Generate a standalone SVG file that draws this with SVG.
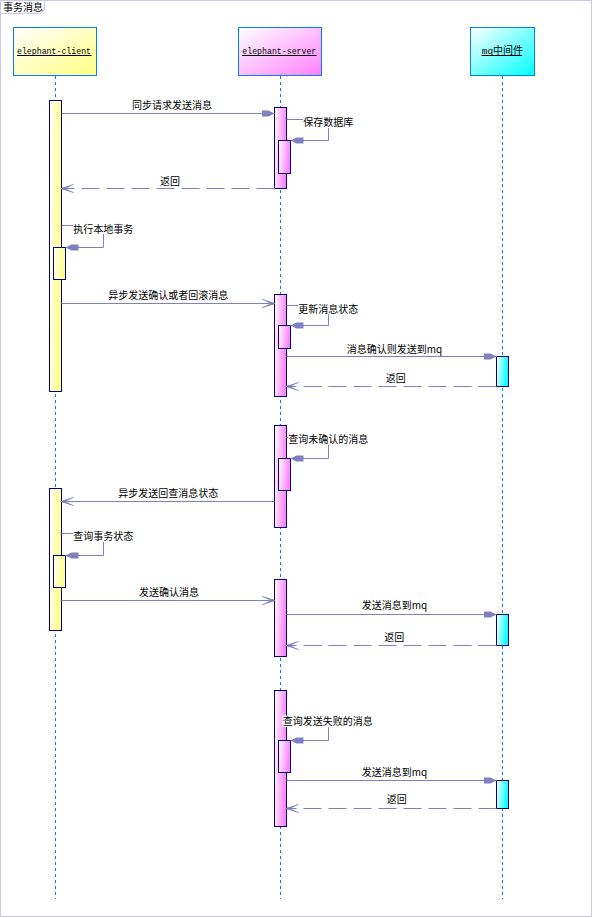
<svg xmlns="http://www.w3.org/2000/svg" width="592" height="918" viewBox="0 0 592 918">
<defs>
<style>
.frame{fill:#fff;stroke:#c8c8e4;stroke-width:1}
.hdr{stroke:#0080ff;stroke-width:1}
.life{stroke:#0080ff;stroke-width:1;stroke-dasharray:3,3;fill:none}
.act{stroke:#000080;stroke-width:1}
.msg{stroke:#8080c0;stroke-width:1;fill:none}
.ret{stroke:#8080c0;stroke-width:1;fill:none;stroke-dasharray:18,7}
.lbl{font-family:"Noto Sans CJK SC","Liberation Sans",sans-serif;font-size:10px;fill:#000}
.hname{font-family:"Liberation Mono","Noto Sans CJK SC",monospace;font-size:9.5px;fill:#000}
.ul{stroke:#000;stroke-width:1}
.bg{fill:#fff}
</style>
<linearGradient id="gY" x1="0" y1="0" x2="1" y2="1"><stop offset="0" stop-color="#ffffff"/><stop offset="1" stop-color="#ffff80"/></linearGradient>
<linearGradient id="gM" x1="0" y1="0" x2="1" y2="1"><stop offset="0" stop-color="#ffffff"/><stop offset="1" stop-color="#ff80ff"/></linearGradient>
<linearGradient id="gC" x1="0" y1="0" x2="1" y2="1"><stop offset="0" stop-color="#ffffff"/><stop offset="1" stop-color="#00ffff"/></linearGradient>
<linearGradient id="aY" x1="0" y1="0" x2="1" y2="0.2"><stop offset="0" stop-color="#ffffff"/><stop offset="1" stop-color="#ffff80"/></linearGradient>
<linearGradient id="aM" x1="0" y1="0" x2="1" y2="0.2"><stop offset="0" stop-color="#ffffff"/><stop offset="1" stop-color="#ff80ff"/></linearGradient>
<linearGradient id="aC" x1="0" y1="0" x2="1" y2="0.2"><stop offset="0" stop-color="#ffffff"/><stop offset="1" stop-color="#00ffff"/></linearGradient>
<marker id="fill" markerWidth="13" markerHeight="8" refX="13" refY="4" orient="auto" markerUnits="userSpaceOnUse">
<path d="M0,1 L7,1 L13,4 L7,7 L0,7 Z" fill="#8080c0"/>
</marker>
<marker id="open" markerWidth="14" markerHeight="10" refX="13" refY="5" orient="auto" markerUnits="userSpaceOnUse">
<path d="M1,1 L13,5 L1,9 M5,3 L13,5 L5,7" fill="none" stroke="#8080c0" stroke-width="1"/>
</marker>
</defs>

<g id="frame">
<rect class="frame" x="0.5" y="0.5" width="591" height="916"/>
<path d="M0.5,13.5 H40.5 L44.5,9.5 V0.5" fill="none" stroke="#c8c8e4"/>
<text class="lbl" x="3" y="11">事务消息</text>
</g>

<g id="lifelines">
<line class="life" x1="55.5" y1="76" x2="55.5" y2="899"/>
<line class="life" x1="280.5" y1="76" x2="280.5" y2="899"/>
<line class="life" x1="502.5" y1="76" x2="502.5" y2="899"/>
</g>

<g id="elephant-client">
<rect class="hdr" x="13.5" y="27.5" width="83" height="48" fill="url(#gY)"/>
<text class="hname" x="17" y="54" textLength="74" lengthAdjust="spacingAndGlyphs">elephant-client</text>
<line class="ul" x1="17" y1="55.5" x2="91.5" y2="55.5"/>
</g>

<g id="elephant-server">
<rect class="hdr" x="238.5" y="27.5" width="83" height="48" fill="url(#gM)"/>
<text class="hname" x="242.3" y="54" textLength="74" lengthAdjust="spacingAndGlyphs">elephant-server</text>
<line class="ul" x1="242" y1="55.5" x2="316.5" y2="55.5"/>
</g>

<g id="mq">
<rect class="hdr" x="470.5" y="27.5" width="64" height="48" fill="url(#gC)"/>
<text x="481.7" y="54"><tspan class="hname">mq</tspan><tspan class="lbl">中间件</tspan></text>
<line class="ul" x1="481.5" y1="55.5" x2="522" y2="55.5"/>
</g>

<g id="activations">
<rect class="act" x="49.5" y="100.5" width="12" height="291" fill="url(#aY)"/>
<rect class="act" x="53.5" y="247.5" width="12" height="32" fill="url(#aY)"/>
<rect class="act" x="49.5" y="488.5" width="12" height="142" fill="url(#aY)"/>
<rect class="act" x="53.5" y="555.5" width="12" height="32" fill="url(#aY)"/>

<rect class="act" x="274.5" y="107.5" width="12" height="81" fill="url(#aM)"/>
<rect class="act" x="278.5" y="140.5" width="12" height="33" fill="url(#aM)"/>
<rect class="act" x="274.5" y="294.5" width="12" height="102" fill="url(#aM)"/>
<rect class="act" x="278.5" y="325.5" width="12" height="23" fill="url(#aM)"/>
<rect class="act" x="274.5" y="425.5" width="12" height="102" fill="url(#aM)"/>
<rect class="act" x="278.5" y="458.5" width="12" height="32" fill="url(#aM)"/>
<rect class="act" x="274.5" y="579.5" width="12" height="77" fill="url(#aM)"/>
<rect class="act" x="274.5" y="690.5" width="12" height="136" fill="url(#aM)"/>
<rect class="act" x="278.5" y="740.5" width="12" height="32" fill="url(#aM)"/>

<rect class="act" x="496.5" y="356.5" width="12" height="30" fill="url(#aC)"/>
<rect class="act" x="496.5" y="614.5" width="12" height="31" fill="url(#aC)"/>
<rect class="act" x="496.5" y="780.5" width="12" height="28" fill="url(#aC)"/>
</g>

<g id="connectors">
<line class="msg" x1="61.5" y1="113.5" x2="274.5" y2="113.5" marker-end="url(#fill)"/>
<polyline class="msg" points="286.5,119.5 328.5,119.5 328.5,140.5 290.5,140.5" marker-end="url(#fill)"/>
<line class="ret" x1="274.5" y1="188.5" x2="61.5" y2="188.5" marker-end="url(#open)"/>
<polyline class="msg" points="61.5,225.5 103.5,225.5 103.5,247.5 65.5,247.5" marker-end="url(#fill)"/>
<line class="msg" x1="61.5" y1="303.5" x2="274.5" y2="303.5" marker-end="url(#open)"/>
<polyline class="msg" points="286.5,305.5 328.5,305.5 328.5,325.5 290.5,325.5" marker-end="url(#fill)"/>
<line class="msg" x1="286.5" y1="356.5" x2="496.5" y2="356.5" marker-end="url(#fill)"/>
<line class="ret" x1="496.5" y1="386.5" x2="286.5" y2="386.5" marker-end="url(#open)"/>
<polyline class="msg" points="286.5,437.5 328.5,437.5 328.5,458.5 290.5,458.5" marker-end="url(#fill)"/>
<line class="msg" x1="274.5" y1="501.5" x2="61.5" y2="501.5" marker-end="url(#open)"/>
<polyline class="msg" points="61.5,533.5 103.5,533.5 103.5,555.5 65.5,555.5" marker-end="url(#fill)"/>
<line class="msg" x1="61.5" y1="600.5" x2="274.5" y2="600.5" marker-end="url(#open)"/>
<line class="msg" x1="286.5" y1="614.5" x2="496.5" y2="614.5" marker-end="url(#fill)"/>
<line class="ret" x1="496.5" y1="645.5" x2="286.5" y2="645.5" marker-end="url(#open)"/>
<polyline class="msg" points="286.5,719.5 328.5,719.5 328.5,740.5 290.5,740.5" marker-end="url(#fill)"/>
<line class="msg" x1="286.5" y1="780.5" x2="496.5" y2="780.5" marker-end="url(#fill)"/>
<line class="ret" x1="496.5" y1="808.5" x2="286.5" y2="808.5" marker-end="url(#open)"/>
</g>

<g id="labels">
<text class="lbl" x="132" y="109">同步请求发送消息</text>
<rect class="bg" x="303" y="117" width="50" height="11"/>
<text class="lbl" x="303.3" y="126">保存数据库</text>
<text class="lbl" x="160" y="184.5">返回</text>
<rect class="bg" x="73" y="223" width="60" height="11"/>
<text class="lbl" x="73.3" y="232.5">执行本地事务</text>
<text class="lbl" x="108.3" y="299">异步发送确认或者回滚消息</text>
<rect class="bg" x="298" y="303" width="60" height="11"/>
<text class="lbl" x="298.3" y="312.5">更新消息状态</text>
<text class="lbl" x="346.7" y="352.5">消息确认则发送到mq</text>
<text class="lbl" x="385.7" y="382.3">返回</text>
<rect class="bg" x="288" y="434" width="80" height="11"/>
<text class="lbl" x="288.3" y="443">查询未确认的消息</text>
<text class="lbl" x="118.3" y="497.3">异步发送回查消息状态</text>
<rect class="bg" x="73" y="531" width="60" height="11"/>
<text class="lbl" x="73.3" y="540">查询事务状态</text>
<text class="lbl" x="139" y="596">发送确认消息</text>
<text class="lbl" x="361.7" y="609">发送消息到mq</text>
<text class="lbl" x="384.3" y="641">返回</text>
<rect class="bg" x="282.5" y="715.5" width="91" height="11.5"/>
<text class="lbl" x="282.7" y="725">查询发送失败的消息</text>
<text class="lbl" x="361.7" y="776">发送消息到mq</text>
<text class="lbl" x="386.7" y="803.3">返回</text>
</g>
</svg>
